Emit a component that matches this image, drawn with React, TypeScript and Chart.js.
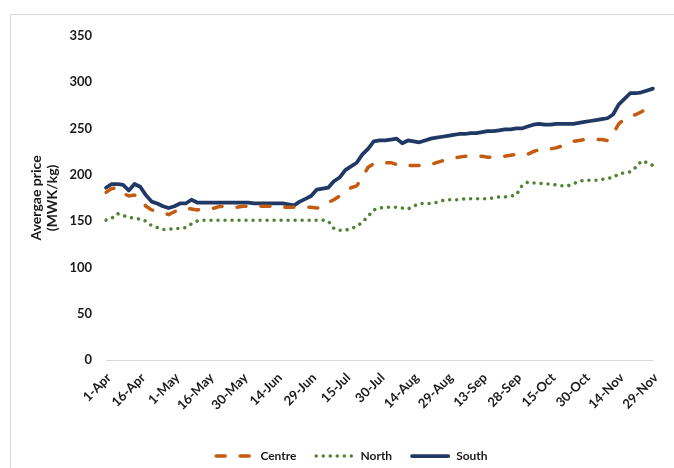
import React, { useEffect, useRef } from 'react';
import { Chart, registerables } from 'chart.js';

Chart.register(...registerables);

const tickLabels = ['1-Apr', '16-Apr', '1-May', '16-May', '30-May', '14-Jun', '29-Jun', '15-Jul', '30-Jul', '14-Aug', '29-Aug', '13-Sep', '28-Sep', '15-Oct', '30-Oct', '14-Nov', '29-Nov'];
const pointsPerTick = 6;

const centre = [
  181, 185, 186, 180, 177, 178, 175, 166, 162, 161,
  159, 157, 160, 163, 164, 163, 162, 163, 163, 164,
  166, 165, 165, 165, 166, 166, 166, 166, 166, 166,
  166, 165, 165, 165, 165, 165, 165, 164, 165, 170,
  173, 177, 182, 186, 188, 197, 208, 212, 213, 213,
  213, 211, 209, 210, 210, 210, 210, 211, 213, 215,
  217, 218, 219, 220, 220, 220, 220, 219, 219, 219,
  220, 221, 222, 222, 222, 225, 227, 228, 228, 229,
  231, 234, 236, 237, 238, 238, 238, 238, 237, 244,
  255, 260, 263, 265, 268, 272, 271,
];

const north = [
  151, 153, 158, 156, 154, 153, 152, 150, 145, 143,
  141, 141, 142, 142, 143, 147, 150, 151, 151, 151,
  151, 151, 151, 151, 151, 151, 151, 151, 151, 151,
  151, 151, 151, 151, 151, 151, 151, 151, 151, 150,
  142, 140, 140, 142, 144, 149, 155, 162, 164, 165,
  165, 165, 164, 163, 166, 169, 169, 169, 170, 172,
  173, 173, 173, 174, 174, 174, 174, 174, 175, 176,
  176, 177, 178, 188, 192, 191, 191, 190, 190, 189,
  188, 188, 190, 193, 194, 194, 194, 195, 196, 197,
  201, 202, 203, 208, 215, 213, 210,
];

const south = [
  186, 190, 190, 189, 183, 190, 187, 178, 171, 169,
  166, 164, 166, 169, 169, 173, 170, 170, 170, 170,
  170, 170, 170, 170, 170, 170, 169, 169, 169, 169,
  169, 169, 168, 167, 171, 174, 177, 184, 185, 186,
  193, 197, 205, 209, 213, 222, 228, 236, 237, 237,
  238, 239, 234, 237, 236, 235, 237, 239, 240, 241,
  242, 243, 244, 244, 245, 245, 246, 247, 247, 248,
  249, 249, 250, 250, 252, 254, 255, 254, 254, 255,
  255, 255, 255, 256, 257, 258, 259, 260, 261, 265,
  276, 282, 288, 288, 289, 291, 293,
];

const FONT = 'Lato, "Open Sans", sans-serif';
const TEXT = '#1a1a1a';

const legendPlugin = {
  id: 'bottomLegend',
  afterDraw(chart: any) {
    const { ctx } = chart;
    ctx.save();
    ctx.font = `bold 12px ${FONT}`;
    const sampleW = 40;
    const gap = 6;
    const itemGap = 18;
    const items = chart.data.datasets.map((ds: any) => ({
      text: ds.label,
      color: ds.borderColor,
      dash: ds.borderDash || [],
      width: ds.borderWidth,
      cap: ds.borderCapStyle || 'butt',
    }));
    const widths = items.map((it: any) => sampleW + gap + ctx.measureText(it.text).width);
    const total = widths.reduce((a: number, b: number) => a + b, 0) + itemGap * (items.length - 1);
    const cx = 341;
    const cy = 442;
    let x = cx - total / 2;
    items.forEach((it: any, i: number) => {
      ctx.beginPath();
      ctx.strokeStyle = it.color;
      ctx.lineWidth = it.width;
      ctx.lineCap = it.cap;
      ctx.setLineDash(it.dash);
      const inset = it.cap === 'round' ? it.width / 2 : 0;
      ctx.moveTo(x + inset, cy);
      ctx.lineTo(x + sampleW - inset, cy);
      ctx.stroke();
      ctx.setLineDash([]);
      ctx.fillStyle = TEXT;
      ctx.textBaseline = 'middle';
      ctx.textAlign = 'left';
      ctx.fillText(it.text, x + sampleW + gap, cy);
      x += widths[i] + itemGap;
    });
    ctx.restore();
  },
};

export default function App() {
  const canvasRef = useRef<HTMLCanvasElement | null>(null);

  useEffect(() => {
    if (!canvasRef.current) return;
    const labels = south.map((_, i) => String(i));
    const chart = new Chart(canvasRef.current, {
      type: 'line',
      data: {
        labels,
        datasets: [
          {
            label: 'Centre',
            data: centre,
            borderColor: '#C55A11',
            borderWidth: 3.5,
            borderDash: [9, 15],
            borderCapStyle: 'round',
            pointRadius: 0,
            tension: 0,
            fill: false,
          },
          {
            label: 'North',
            data: north,
            borderColor: '#548235',
            borderWidth: 3.5,
            borderDash: [0.01, 7],
            borderCapStyle: 'round',
            pointRadius: 0,
            tension: 0,
            fill: false,
          },
          {
            label: 'South',
            data: south,
            borderColor: '#203864',
            borderWidth: 3.75,
            borderCapStyle: 'round',
            borderJoinStyle: 'round',
            pointRadius: 0,
            tension: 0,
            fill: false,
          },
        ],
      },
      options: {
        responsive: false,
        animation: false,
        devicePixelRatio: 1,
        layout: { padding: { left: 0, right: 11, top: 21, bottom: 0 } },
        plugins: {
          legend: { display: false },
          tooltip: { enabled: false },
        },
        scales: {
          x: {
            type: 'category',
            grid: { display: false, drawTicks: false },
            border: { display: true, color: '#d9d9d9', width: 1 },
            ticks: {
              autoSkip: false,
              maxRotation: 45,
              minRotation: 45,
              padding: 10,
              labelOffset: 3,
              color: TEXT,
              font: { family: FONT, size: 13, weight: 'bold' },
              callback: (_v: any, i: number) => (i % pointsPerTick === 0 ? tickLabels[i / pointsPerTick] : ''),
            },
            afterFit: (s: any) => {
              s.height = 108;
            },
          },
          y: {
            min: 0,
            max: 350,
            grid: { display: false, drawTicks: false },
            border: { display: false },
            ticks: {
              stepSize: 50,
              padding: 14,
              color: TEXT,
              font: { family: FONT, size: 13, weight: 'bold' },
            },
            title: {
              display: true,
              text: ['Avergae price', '(MWK/kg)'],
              color: TEXT,
              font: { family: FONT, size: 14, weight: 'bold', lineHeight: 1.2 },
              padding: { top: 17.6, bottom: 0 },
            },
            afterFit: (s: any) => {
              s.width = 96;
            },
          },
        },
      } as any,
      plugins: [legendPlugin],
    });
    return () => chart.destroy();
  }, []);

  return (
    <div
      style={{
        position: 'fixed',
        left: 0,
        top: 0,
        width: 674,
        height: 468,
        overflow: 'hidden',
        background: '#ffffff',
      }}
    >
      <div
        style={{
          position: 'absolute',
          left: 10,
          top: 14,
          width: 700,
          height: 500,
          border: '1px solid #d9d9d9',
          boxSizing: 'border-box',
        }}
      />
      <canvas
        ref={canvasRef}
        width={664}
        height={454}
        style={{ position: 'absolute', left: 10, top: 14, width: 664, height: 454 }}
      />
    </div>
  );
}
